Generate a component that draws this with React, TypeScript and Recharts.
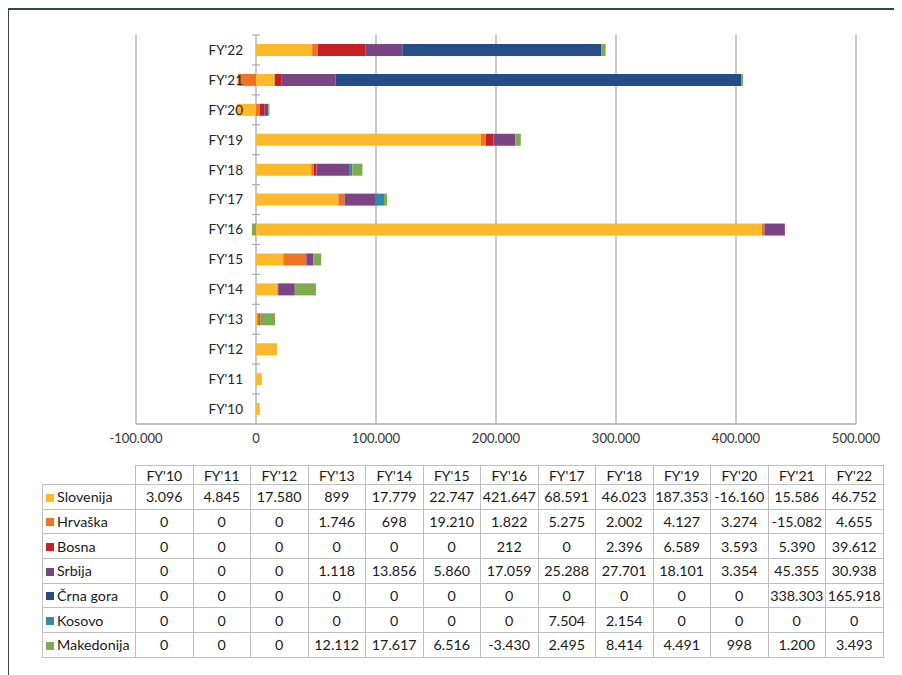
import React from "react";
import { BarChart, Bar, XAxis, YAxis, CartesianGrid } from "recharts";

const categories = ["FY'10", "FY'11", "FY'12", "FY'13", "FY'14", "FY'15", "FY'16", "FY'17", "FY'18", "FY'19", "FY'20", "FY'21", "FY'22"];

const slovenija = [3096, 4845, 17580, 899, 17779, 22747, 421647, 68591, 46023, 187353, -16160, 15586, 46752];
const hrvaska = [0, 0, 0, 1746, 698, 19210, 1822, 5275, 2002, 4127, 3274, -15082, 4655];
const bosna = [0, 0, 0, 0, 0, 0, 212, 0, 2396, 6589, 3593, 5390, 39612];
const srbija = [0, 0, 0, 1118, 13856, 5860, 17059, 25288, 27701, 18101, 3354, 45355, 30938];
const crnaGora = [0, 0, 0, 0, 0, 0, 0, 0, 0, 0, 0, 338303, 165918];
const kosovo = [0, 0, 0, 0, 0, 0, 0, 7504, 2154, 0, 0, 0, 0];
const makedonija = [0, 0, 0, 12112, 17617, 6516, -3430, 2495, 8414, 4491, 998, 1200, 3493];

const xTicks = [-100000, 0, 100000, 200000, 300000, 400000, 500000];

const series = [
  { key: "slovenija", name: "Slovenija", values: slovenija, color: "#FDB92C" },
  { key: "hrvaska", name: "Hrvaška", values: hrvaska, color: "#ED7426" },
  { key: "bosna", name: "Bosna", values: bosna, color: "#C52026" },
  { key: "srbija", name: "Srbija", values: srbija, color: "#7B4483" },
  { key: "crnaGora", name: "Črna gora", values: crnaGora, color: "#264D87" },
  { key: "kosovo", name: "Kosovo", values: kosovo, color: "#2F8BA5" },
  { key: "makedonija", name: "Makedonija", values: makedonija, color: "#7FAB4F" },
];

const data = categories.map((cat, i) => {
  const row: Record<string, string | number> = { cat };
  series.forEach((s) => (row[s.key] = s.values[i]));
  return row;
});

// dots as thousands separator, like the original
const fmt = (v: number) => {
  const s = String(Math.abs(v)).replace(/\B(?=(\d{3})+(?!\d))/g, ".");
  return v < 0 ? "-" + s : s;
};

const FONT = "Lato, 'Open Sans', sans-serif";
const GRID = "#ABABAB";
const CELL_BORDER = "1px solid #BFBFBF";

// chart geometry
const W = 880;
const H = 460;
const Y_AXIS_W = 10;
const MARGIN = { top: 27, right: 32, bottom: 14, left: 118 };
const X_AXIS_H = 30;
const PLOT_LEFT = MARGIN.left + Y_AXIS_W;
const PLOT_W = W - PLOT_LEFT - MARGIN.right;
const PLOT_H = H - MARGIN.top - MARGIN.bottom - X_AXIS_H;
const X_MIN = xTicks[0];
const X_MAX = xTicks[xTicks.length - 1];
const ZERO_X = PLOT_LEFT + (PLOT_W * (0 - X_MIN)) / (X_MAX - X_MIN);
const BAND = PLOT_H / categories.length;

function CategoryTick(props: any) {
  const { y, payload } = props;
  return (
    <g>
      <text
        x={ZERO_X - 13}
        y={y}
        dy="0.36em"
        textAnchor="end"
        fontSize={13.5}
        fontFamily={FONT}
        fill="#262626"
      >
        {payload.value}
      </text>
      <line x1={ZERO_X - 4} x2={ZERO_X + 4} y1={y - BAND / 2} y2={y - BAND / 2} stroke={GRID} strokeWidth={1.2} />
    </g>
  );
}

export default function App() {
  return (
    <div style={{ width: 894, height: 667, overflow: "hidden", position: "relative", marginLeft: -1 }}>
      <div
        style={{
          position: "absolute",
          left: 0,
          top: 0,
          width: 1000,
          height: 800,
          borderLeft: "2px solid #34454F",
          borderTop: "2px solid #34454F",
          boxSizing: "border-box",
        }}
      />
      <div style={{ position: "absolute", left: 1, top: 0 }}>
        <BarChart width={W} height={H} data={data} layout="vertical" stackOffset="sign" margin={MARGIN} barSize={12}>
          <CartesianGrid horizontal={false} stroke={GRID} strokeWidth={1.3} />
          <XAxis
            type="number"
            domain={[X_MIN, X_MAX]}
            ticks={xTicks}
            tickFormatter={fmt}
            height={X_AXIS_H}
            axisLine={{ stroke: GRID, strokeWidth: 1.3 }}
            tickLine={false}
            tickSize={0}
            tickMargin={10}
            tick={{ fontSize: 13, fill: "#333", fontFamily: FONT }}
            interval={0}
          />
          <YAxis
            type="category"
            dataKey="cat"
            reversed
            width={Y_AXIS_W}
            axisLine={false}
            tickLine={false}
            tick={<CategoryTick />}
            interval={0}
          />
          {series.map((s) => (
            <Bar key={s.key} dataKey={s.key} name={s.name} stackId="a" fill={s.color} isAnimationActive={false} />
          ))}
        </BarChart>
      </div>

      <table
        style={{
          position: "absolute",
          left: 35,
          top: 457,
          borderCollapse: "collapse",
          tableLayout: "fixed",
          width: 841,
          fontSize: 14.3,
          color: "#1a1a1a",
          fontFamily: FONT,
        }}
      >
        <colgroup>
          <col style={{ width: 93 }} />
          {categories.map((c) => (
            <col key={c} style={{ width: 57.5 }} />
          ))}
        </colgroup>
        <thead>
          <tr style={{ height: 19 }}>
            <th style={{ border: "none", padding: 0 }} />
            {categories.map((c) => (
              <th key={c} style={{ border: CELL_BORDER, fontWeight: 400, padding: 0, textAlign: "center", fontSize: 14, lineHeight: "17px" }}>
                {c}
              </th>
            ))}
          </tr>
        </thead>
        <tbody>
          {series.map((s) => (
            <tr key={s.key} style={{ height: 24.7 }}>
              <td style={{ border: CELL_BORDER, padding: "0 0 0 3px", whiteSpace: "nowrap", textAlign: "left", overflow: "hidden" }}>
                <span
                  style={{ display: "inline-block", width: 8, height: 8, background: s.color, marginRight: 3, verticalAlign: "middle", position: "relative", top: -1 }}
                />
                {s.name}
              </td>
              {s.values.map((v, i) => (
                <td key={i} style={{ border: CELL_BORDER, padding: 0, textAlign: "center", whiteSpace: "nowrap", overflow: "hidden" }}>
                  {fmt(v)}
                </td>
              ))}
            </tr>
          ))}
        </tbody>
      </table>
    </div>
  );
}
